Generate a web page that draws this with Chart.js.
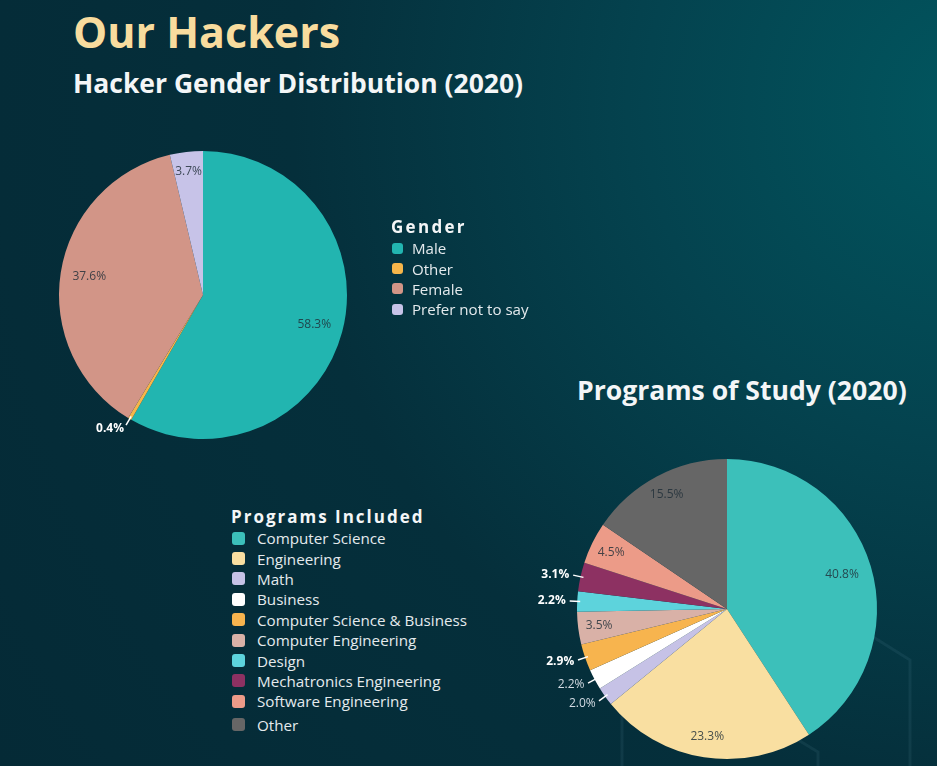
<!DOCTYPE html>
<html>
<head>
<meta charset="utf-8">
<script src="https://cdn.jsdelivr.net/npm/chart.js@4.4.1/dist/chart.umd.min.js"></script>
<style>
html, body { margin: 0; padding: 0; }
body {
  width: 937px; height: 766px; overflow: hidden; position: relative;
  font-family: 'Open Sans', sans-serif;
  background-color: #052a36;
  background-image: radial-gradient(circle at 104% 14%, #01565f 0%, #04434f 28%, #052f3b 58%, #052a36 100%);
}
.deco { position: absolute; left: 0; top: 0; }
h1, h2 { position: absolute; margin: 0; font-weight: 700; white-space: nowrap; }
#mainTitle { left: 73px; top: 2px; font-size: 43px; color: #f8dc9e; }
#genderTitle { left: 73px; top: 65px; font-size: 26.5px; color: #f4f6f7; }
#programTitle { left: 577px; top: 372px; font-size: 26.6px; color: #f4f6f7; }
canvas { position: absolute; }
#genderChart { left: 13px; top: 105px; }
#programChart { left: 517px; top: 399px; }
.legend { position: absolute; color: #e4eaed; }
.legend .head { font-weight: 700; color: #f4f6f7; }
.legend .item { display: flex; align-items: center; }
.legend .box { border-radius: 3px; flex: none; }
#genderLegend { left: 391px; top: 216px; font-size: 15.1px; }
#genderLegend .head { font-size: 17px; line-height: 22px; letter-spacing: 2.3px; }
#genderLegend .item { height: 20.4px; }
#genderLegend .box { width: 11px; height: 11px; margin: 0 9px 0 1px; }
#programLegend { left: 231px; top: 506px; font-size: 15.2px; }
#programLegend .head { font-size: 17px; line-height: 22px; letter-spacing: 2.0px; }
#programLegend .item { height: 20.4px; }
#programLegend .item:last-child { margin-top: 3px; }
#programLegend .box { width: 13px; height: 13px; margin: 0 12px 0 1px; }
</style>
</head>
<body>
<svg class="deco" width="937" height="766">
  <g fill="none" stroke="rgba(120,170,185,0.10)" stroke-width="3">
    <polyline points="870,635 910,660 910,766"/>
    <polyline points="790,735 818,752 818,766"/>
    <polyline points="622,766 622,700"/>
  </g>
</svg>
<h1 id="mainTitle">Our Hackers</h1>
<h2 id="genderTitle">Hacker Gender Distribution (2020)</h2>
<h2 id="programTitle">Programs of Study (2020)</h2>
<canvas id="genderChart" width="380" height="380"></canvas>
<canvas id="programChart" width="420" height="420"></canvas>
<div class="legend" id="genderLegend"></div>
<div class="legend" id="programLegend"></div>
<script>
// Données : genre
const genderLabels = ['Male', 'Other', 'Female', 'Prefer not to say'];
const genderValues = [58.3, 0.4, 37.6, 3.7];
const genderColors = ['#22b5b0', '#f6b64a', '#d29587', '#c7c3e8'];

// Données : programmes
const programLabels = ['Computer Science', 'Engineering', 'Math', 'Business', 'Computer Science & Business',
  'Computer Engineering', 'Design', 'Mechatronics Engineering', 'Software Engineering', 'Other'];
const programValues = [40.8, 23.3, 2.0, 2.2, 2.9, 3.5, 2.2, 3.1, 4.5, 15.5];
const programColors = ['#3cc0ba', '#f9dfa1', '#c6c2e6', '#ffffff', '#f7b44e',
  '#d9b1a7', '#5dd3dc', '#8d3162', '#ec9b88', '#666666'];

const OUTSIDE_LIMIT = 3.3; // en dessous : étiquette à l'extérieur

function luminance(hex) {
  const n = parseInt(hex.slice(1), 16);
  return (0.299 * (n >> 16) + 0.587 * ((n >> 8) & 255) + 0.114 * (n & 255)) / 255;
}

// Étiquettes de pourcentage sur les parts
const sliceLabels = {
  id: 'sliceLabels',
  afterDatasetsDraw(chart) {
    const ctx = chart.ctx;
    const ds = chart.data.datasets[0];
    const total = ds.data.reduce((a, b) => a + b, 0);
    chart.getDatasetMeta(0).data.forEach((arc, i) => {
      const p = arc.getProps(['x', 'y', 'startAngle', 'endAngle', 'outerRadius'], true);
      const mid = (p.startAngle + p.endAngle) / 2;
      const cos = Math.cos(mid), sin = Math.sin(mid);
      const r = p.outerRadius;
      const pct = ds.data[i] / total * 100;
      const text = pct.toFixed(1) + '%';
      ctx.save();
      if (pct >= OUTSIDE_LIMIT) {
        const f = pct > 30 ? 0.8 : 0.86;
        ctx.font = '12px "Open Sans"';
        ctx.fillStyle = 'rgba(32,46,56,0.82)';
        ctx.textAlign = 'center';
        ctx.textBaseline = 'middle';
        ctx.fillText(text, p.x + cos * r * f, p.y + sin * r * f);
      } else {
        // trait de rappel + texte
        ctx.strokeStyle = '#ffffff';
        ctx.lineWidth = 1.5;
        ctx.beginPath();
        ctx.moveTo(p.x + cos * r * 0.98, p.y + sin * r * 0.98);
        ctx.lineTo(p.x + cos * r * 1.05, p.y + sin * r * 1.05);
        ctx.stroke();
        const light = luminance(ds.backgroundColor[i]) > 0.76;
        ctx.font = (light ? '' : 'bold ') + '12px "Open Sans"';
        ctx.fillStyle = light ? '#d3dbe3' : '#ffffff';
        const lx = p.x + cos * (r * 1.05 + 4);
        const ly = p.y + sin * (r * 1.05 + 4);
        if (Math.abs(cos) > 0.5) {
          ctx.textAlign = cos < 0 ? 'right' : 'left';
          ctx.textBaseline = 'middle';
        } else {
          ctx.textAlign = 'center';
          ctx.textBaseline = sin > 0 ? 'top' : 'bottom';
        }
        ctx.fillText(text, lx, ly);
      }
      ctx.restore();
    });
  }
};

function makePie(id, labels, values, colors, radius) {
  return new Chart(document.getElementById(id), {
    type: 'pie',
    data: {
      labels: labels,
      datasets: [{ data: values, backgroundColor: colors, borderWidth: 0 }]
    },
    options: {
      responsive: false,
      animation: false,
      radius: radius,
      layout: { padding: 0 },
      plugins: { legend: { display: false }, tooltip: { enabled: false } }
    },
    plugins: [sliceLabels]
  });
}

function buildLegend(id, title, labels, colors) {
  const el = document.getElementById(id);
  let html = '<div class="head">' + title + '</div>';
  labels.forEach((l, i) => {
    html += '<div class="item"><span class="box" style="background:' + colors[i] + '"></span>' + l + '</div>';
  });
  el.innerHTML = html;
}

makePie('genderChart', genderLabels, genderValues, genderColors, 144);
makePie('programChart', programLabels, programValues, programColors, 150);
buildLegend('genderLegend', 'Gender', genderLabels, genderColors);
buildLegend('programLegend', 'Programs Included', programLabels, programColors);
</script>
</body>
</html>
